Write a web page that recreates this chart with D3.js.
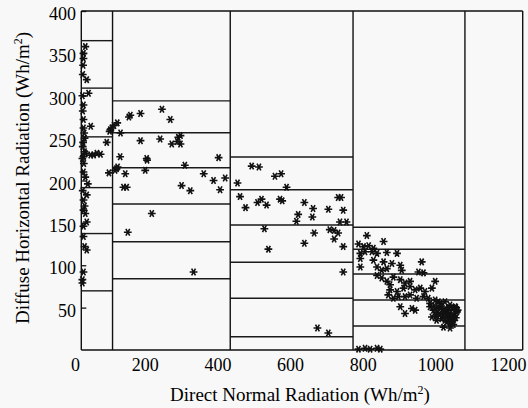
<!DOCTYPE html>
<html>
<head>
<meta charset="utf-8">
<script src="https://cdn.jsdelivr.net/npm/d3@7"></script>
<style>
  body { margin: 0; background: #f8f8f8; }
  svg { display: block; }
  text { font-family: "Liberation Serif", "Times New Roman", serif; fill: #000; }
</style>
</head>
<body>
<svg id="grafico" width="528" height="408"></svg>
<script>
// Bordes de las columnas (radiación directa, Wh/m2)
var binEdges = [24, 110, 434, 772, 1080, 1239];

// Líneas horizontales dentro de cada columna (radiación difusa, Wh/m2)
var col1Lines = [365, 309, 251.5, 191.6, 137.4, 69.8];
var col2Lines = [294, 256.4, 215, 172.3, 127.8, 84.1];
var col3Lines = [227.7, 189, 147.5, 103.5, 61, 15.7];
var col4Lines = [144.8, 118.8, 89.7, 59, 28.3];
var col5Lines = [];

// Ticks de los ejes
var xTicks = [0, 200, 400, 600, 800, 1000, 1200];
var yTicks = [50, 100, 150, 200, 250, 300, 350, 400];

// Puntos medidos [directa, difusa]
var col1Pts = [[35,358],[30,350],[30,344],[29,336],[28,325],[39,319],[44,303],[30,289],[27,300],
  [30,272],[28,282],[50,264],[30,262],[32,256],[33,250],[29,245],[28,240],[33,234],[35,232],
  [30,228],[27,226],[58,230],[67,232],[50,230],[77,231],[94,245],[104,260],[108,262],[102,258],
  [31,220],[30,210],[35,204],[42,196],[100,209],[39,183],[28,188],[30,177],[33,170],[30,165],
  [35,161],[39,151],[30,146],[30,134],[33,122],[39,118],[30,92],[27,83],[27,79]];
var col2Pts = [[114,265],[123,268],[132,256],[155,275],[159,277],[187,279],[246,284],[269,272],
  [187,247],[241,249],[291,251],[297,253],[273,243],[288,246],[297,243],[204,226],[402,227],
  [131,228],[205,224],[200,212],[309,218],[117,212],[145,208],[124,216],[121,214],[361,208],
  [388,200],[420,203],[140,192],[149,192],[300,194],[324,188],[406,189],[218,161],[152,139],[333,92]];
var col3Pts = [[493,217],[513,216],[557,205],[574,208],[454,197],[589,192],[461,181],[476,168],
  [509,174],[520,178],[534,171],[571,178],[577,176],[638,174],[662,167],[621,160],[616,152],
  [660,157],[704,166],[745,165],[731,180],[739,180],[736,151],[754,151],[528,143],[539,119],
  [638,126],[665,138],[708,142],[720,141],[731,138],[720,131],[745,122],[745,92],[674,26],[704,20]];
var col4Pts = [[810,135],[856,128],[787,125],[801,122],[815,123],[828,120],[792,114],[805,116],
  [824,116],[838,114],[865,115],[893,114],[792,108],[828,106],[856,104],[879,102],[792,98],
  [838,98],[851,94],[865,96],[902,100],[906,94],[961,104],[952,92],[966,91],[838,88],[851,85],
  [883,86],[865,81],[874,77],[902,83],[915,79],[929,81],[998,81],[874,71],[893,69],[911,73],
  [869,65],[883,61],[897,63],[929,75],[943,71],[957,73],[970,69],[989,73],[915,63],[929,65],
  [947,61],[966,63],[979,61],[998,59],[1012,55],[1025,57],[1039,53],[1053,51],[902,51],[934,49],
  [943,47],[915,43],[984,51],[993,47],[1002,44],[1012,49],[1021,45],[1030,47],[1039,43],[1048,41],
  [1058,45],[989,39],[1002,35],[1016,37],[1030,33],[1039,31],[1048,35],[1021,27],[1039,26],
  [1048,30],[984,55],[1007,57],[995,52],[1005,50],[1015,52],[1025,48],[1035,50],[1045,48],
  [1055,50],[1010,42],[1020,40],[1030,42],[1040,38],[1050,40],[1025,35],[1035,37],[1045,33],
  [1055,38],[1060,47],[1000,40],[787,1],[805,2],[819,1],[838,2],[847,1]];

var svg = d3.select("#grafico");

var x = d3.scaleLinear().domain([24, 1239]).range([81.3, 522.7]);
var y = d3.scaleLinear().domain([0, 400]).range([350, 11]);

// Líneas de cada columna
var columnas = [col1Lines, col2Lines, col3Lines, col4Lines, col5Lines];
columnas.forEach(function (lineas, i) {
  svg.selectAll(".hl" + i)
    .data(lineas)
    .enter().append("line")
    .attr("x1", x(binEdges[i]))
    .attr("x2", x(binEdges[i + 1]))
    .attr("y1", d => y(d))
    .attr("y2", d => y(d))
    .attr("stroke", "#1a1a1a")
    .attr("stroke-width", 1.4);
});

// Separadores verticales
svg.selectAll(".vl")
  .data(binEdges)
  .enter().append("line")
  .attr("x1", d => x(d))
  .attr("x2", d => x(d))
  .attr("y1", y(400))
  .attr("y2", y(0))
  .attr("stroke", "#111")
  .attr("stroke-width", 1.4);

// Bordes superior e inferior
svg.append("line")
  .attr("x1", x(binEdges[0])).attr("x2", x(binEdges[5]))
  .attr("y1", y(400)).attr("y2", y(400))
  .attr("stroke", "#111").attr("stroke-width", 1.4);
svg.append("line")
  .attr("x1", x(binEdges[0])).attr("x2", x(binEdges[5]))
  .attr("y1", y(0)).attr("y2", y(0))
  .attr("stroke", "#111").attr("stroke-width", 1.6);

// Eje Y con ticks hacia dentro
var yAxis = d3.axisRight(y).tickValues(yTicks).tickSize(5).tickFormat("");
svg.append("g")
  .attr("transform", "translate(" + x(binEdges[0]) + ",0)")
  .call(yAxis)
  .call(g => g.select(".domain").remove())
  .selectAll("line").attr("stroke", "#111").attr("stroke-width", 1.3);

svg.selectAll(".ylab")
  .data(yTicks)
  .enter().append("text")
  .attr("x", 76)
  .attr("y", d => y(d) + 9)
  .attr("text-anchor", "end")
  .style("font-size", "18px")
  .text(d => d);

svg.selectAll(".xlab")
  .data(xTicks)
  .enter().append("text")
  .attr("x", d => x(d) + (d === 0 ? 3 : 0))
  .attr("y", 371)
  .attr("text-anchor", "middle")
  .style("font-size", "18px")
  .text(d => d);

// Puntos con forma de asterisco
var asterisco = d3.symbol().type(d3.symbolAsterisk).size(42);
var todos = col1Pts.concat(col2Pts, col3Pts, col4Pts);
svg.selectAll(".pt")
  .data(todos)
  .enter().append("path")
  .attr("class", "pt")
  .attr("transform", d => "translate(" + x(d[0]) + "," + y(d[1]) + ") rotate(90)")
  .attr("d", asterisco)
  .attr("fill", "none")
  .attr("stroke", "#111")
  .attr("stroke-width", 1.6);

// Títulos de los ejes
var xt = svg.append("text")
  .attr("x", 300)
  .attr("y", 401)
  .attr("text-anchor", "middle")
  .style("font-size", "19px");
xt.append("tspan").text("Direct Normal Radiation (Wh/m");
xt.append("tspan").attr("dy", -7).style("font-size", "12px").text("2");
xt.append("tspan").attr("dy", 7).text(")");

var yt = svg.append("text")
  .attr("transform", "translate(29,178) rotate(-90)")
  .attr("text-anchor", "middle")
  .style("font-size", "19px");
yt.append("tspan").text("Diffuse Horizontal Radiation (Wh/m");
yt.append("tspan").attr("dy", -7).style("font-size", "12px").text("2");
yt.append("tspan").attr("dy", 7).text(")");
</script>
</body>
</html>
